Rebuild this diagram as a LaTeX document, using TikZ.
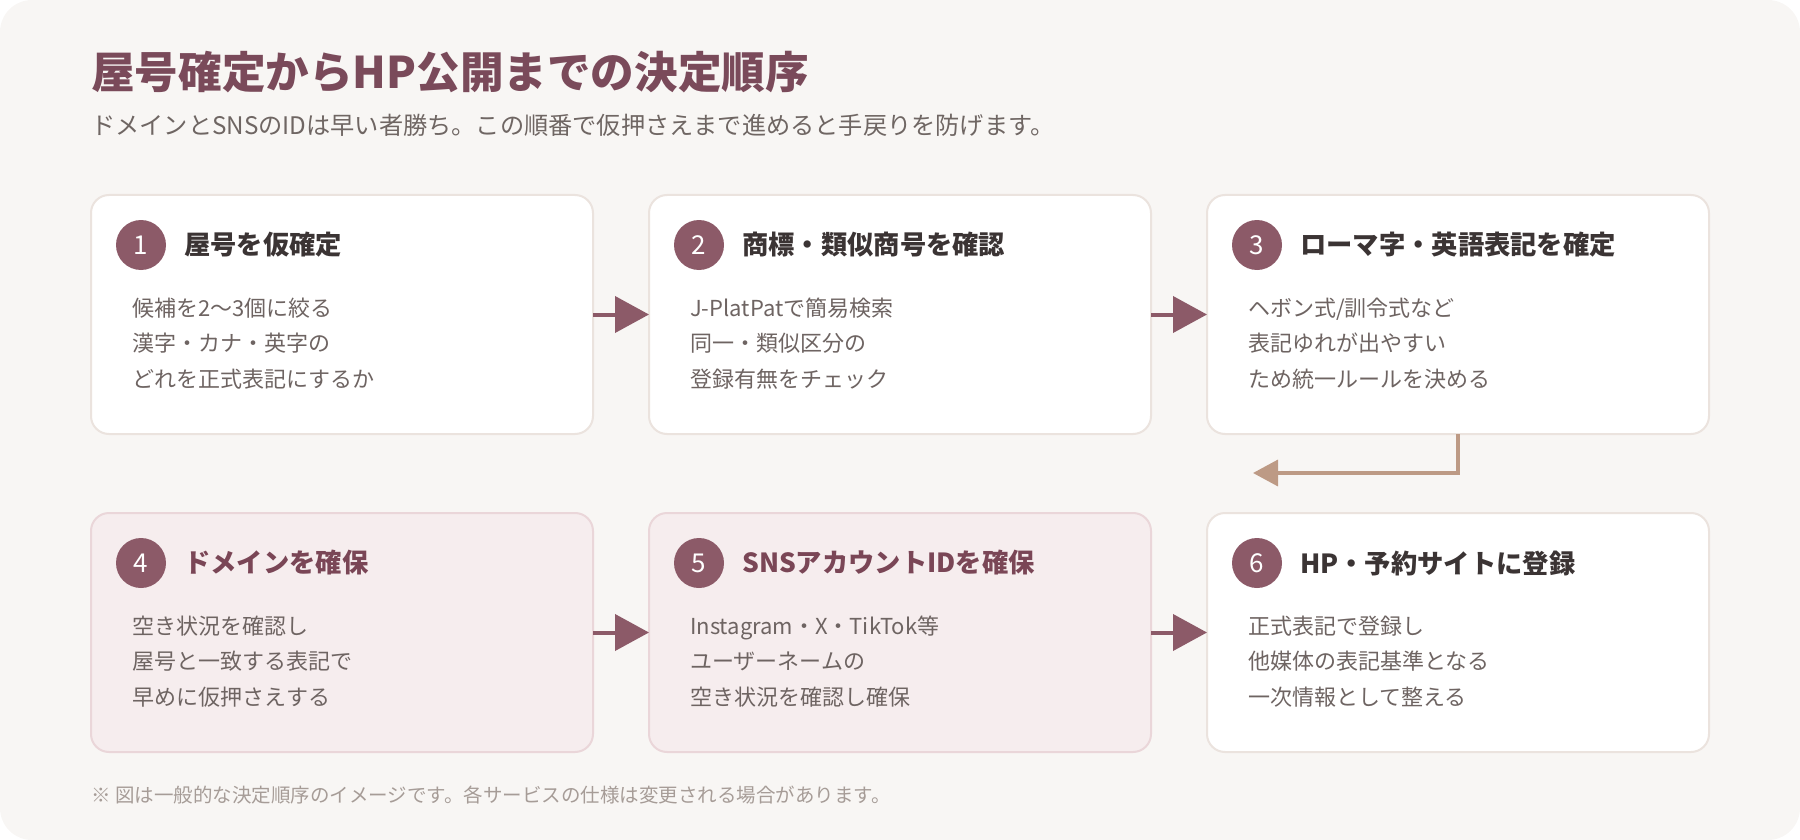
\documentclass[tikz,border=0pt]{standalone}
\usepackage{fontspec}
\setmainfont{Noto Sans CJK JP}
\usetikzlibrary{arrows.meta,calc}
\definecolor{bgc}{HTML}{F8F6F4}
\definecolor{cardline}{HTML}{EBE3DE}
\definecolor{pinkfill}{HTML}{F6EDEE}
\definecolor{pinkline}{HTML}{EAD6D9}
\definecolor{mauve}{HTML}{8C5A68}
\definecolor{titlec}{HTML}{7A4A5A}
\definecolor{headdark}{HTML}{3B3434}
\definecolor{headpinkc}{HTML}{7A4656}
\definecolor{bodyc}{HTML}{6E6462}
\definecolor{subc}{HTML}{6F6663}
\definecolor{footc}{HTML}{A69C97}
\definecolor{tanc}{HTML}{BD9A85}
\newcommand\mkstep[8]{%
  \node[card#4, anchor=north west] (box#1) at (#2,#3) {};
  \node[numc] (num#1) at ($(box#1.north west)+(50,50)$) {#1};
  \node[head#4, anchor=west] (head#1) at ($(box#1.north west)+(93,50)$) {#5};
  \node[bodyt] (l#1a) at ($(box#1.north west)+(41,121)$) {#6};
  \node[bodyt] (l#1b) at ($(box#1.north west)+(41,156.5)$) {#7};
  \node[bodyt] (l#1c) at ($(box#1.north west)+(41,192)$) {#8};
}
\begin{document}
\begin{tikzpicture}[x=1pt,y=-1pt,
  cardbase/.style={draw, line width=2pt, rounded corners=18pt, minimum width=502pt, minimum height=239pt, inner sep=0pt, outer sep=0pt},
  cardw/.style={cardbase, fill=white, draw=cardline},
  cardp/.style={cardbase, fill=pinkfill, draw=pinkline},
  numc/.style={circle, fill=mauve, minimum size=50pt, inner sep=0pt, text=white, font=\fontsize{26}{30}\selectfont},
  headw/.style={inner sep=0pt, text=headdark, font=\fontsize{26.3}{30}\selectfont\bfseries},
  headp/.style={inner sep=0pt, text=headpinkc, font=\fontsize{26.3}{30}\selectfont\bfseries},
  bodyt/.style={inner sep=0pt, anchor=base west, text=bodyc, font=\fontsize{22}{26}\selectfont},
  flow/.style={draw=mauve, line width=4pt, -{Triangle[length=34pt,width=36pt]}},
  turnflow/.style={draw=tanc, line width=3.5pt, -{Triangle[length=25pt,width=26pt]}}
]
\useasboundingbox (0,0) rectangle (1800,840);
\fill[bgc, rounded corners=32pt] (0,0) rectangle (1800,840);

\node[anchor=base west, inner sep=0pt, text=titlec, font=\fontsize{43.6}{50}\selectfont\bfseries] (title) at (91,89) {屋号確定からHP公開までの決定順序};
\node[anchor=base west, inner sep=0pt, text=subc, font=\fontsize{24.2}{28}\selectfont] (sub) at (91,135) {ドメインとSNSのIDは早い者勝ち。この順番で仮押さえまで進めると手戻りを防げます。};

\mkstep{1}{91}{195}{w}{屋号を仮確定}{候補を2〜3個に絞る}{漢字・カナ・英字の}{どれを正式表記にするか}
\mkstep{2}{649}{195}{w}{商標・類似商号を確認}{J-PlatPatで簡易検索}{同一・類似区分の}{登録有無をチェック}
\mkstep{3}{1207}{195}{w}{ローマ字・英語表記を確定}{ヘボン式/訓令式など}{表記ゆれが出やすい}{ため統一ルールを決める}
\mkstep{4}{91}{513}{p}{ドメインを確保}{空き状況を確認し}{屋号と一致する表記で}{早めに仮押さえする}
\mkstep{5}{649}{513}{p}{SNSアカウントIDを確保}{Instagram・X・TikTok等}{ユーザーネームの}{空き状況を確認し確保}
\mkstep{6}{1207}{513}{w}{HP・予約サイトに登録}{正式表記で登録し}{他媒体の表記基準となる}{一次情報として整える}

\draw[flow] (box1.east) -- (box2.west);
\draw[flow] (box2.east) -- (box3.west);
\draw[flow] (box4.east) -- (box5.west);
\draw[flow] (box5.east) -- (box6.west);
\coordinate (turnend) at (1253,473);
\draw[turnflow] (box3.south) |- (turnend);

\node[anchor=base west, inner sep=0pt, text=footc, font=\fontsize{19.5}{24}\selectfont] (foot) at (91,802) {※ 図は一般的な決定順序のイメージです。各サービスの仕様は変更される場合があります。};
\end{tikzpicture}
\end{document}
